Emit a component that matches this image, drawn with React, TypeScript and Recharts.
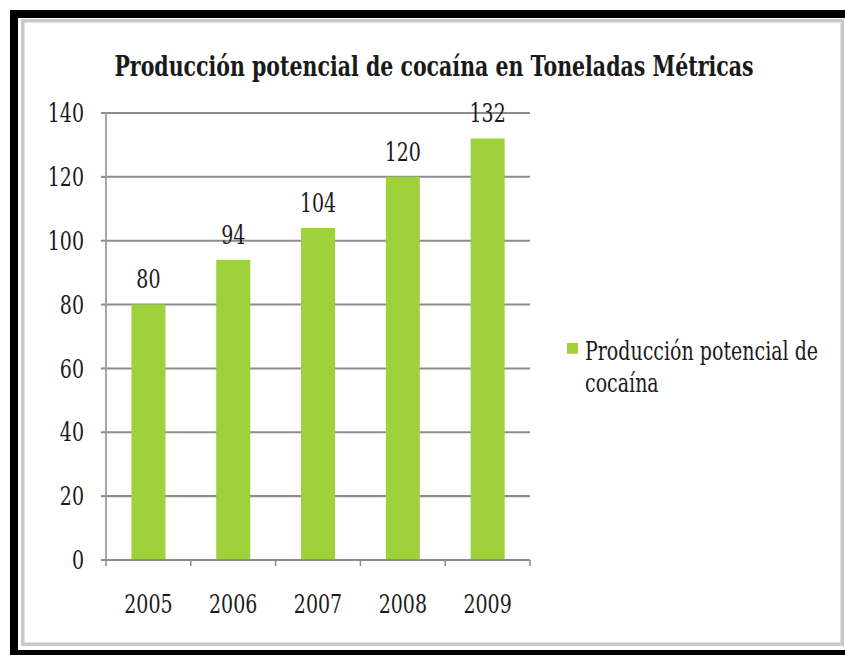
import { BarChart, Bar, XAxis, YAxis, CartesianGrid, LabelList } from 'recharts';

const TITLE = 'Producción potencial de cocaína en Toneladas Métricas';
const SERIES_NAME = 'Producción potencial de cocaína';
const YEARS = ['2005', '2006', '2007', '2008', '2009'];
const PRODUCTION = [80, 94, 104, 120, 132];
const Y_TICKS = [0, 20, 40, 60, 80, 100, 120, 140];

const FONT = '"DejaVu Serif", "Liberation Serif", serif';
const GREEN = '#9fd13a';
const GRID = '#8c8c8c';
const TEXT = '#1a1a1a';
// the source picture is stretched vertically, so the whole chart is drawn squashed and scaled back
const STRETCH = 1.35;
const W = 845;
const H = 486;

const data = YEARS.map((year, i) => ({ year, value: PRODUCTION[i] }));

function YearTick(props: any) {
  const { x, y, payload, index, visibleTicksCount } = props;
  const axisY = y - 8; // tickSize 6 + tickMargin 2
  const half = payload?.offset ?? 0;
  const last = index === visibleTicksCount - 1;
  return (
    <g>
      {half > 0 && <line x1={x - half} x2={x - half} y1={axisY} y2={axisY + 4.5} stroke={GRID} strokeWidth={1.5} />}
      {half > 0 && last && <line x1={x + half} x2={x + half} y1={axisY} y2={axisY + 4.5} stroke={GRID} strokeWidth={1.5} />}
      <text x={x} y={y + 31} textAnchor="middle" fontSize={19} fill={TEXT} fontFamily={FONT}>
        {payload.value}
      </text>
    </g>
  );
}

export default function App() {
  return (
    <div style={{ position: 'absolute', left: 0, top: 0, width: 845, height: 655, background: '#fff', overflow: 'hidden', fontFamily: FONT }}>
      <div style={{ position: 'absolute', left: 10, top: 10, width: 880, height: 648, boxSizing: 'border-box', border: '8px solid #000' }} />
      <div style={{ position: 'absolute', left: 21, top: 19, width: 823, height: 627, boxSizing: 'border-box', border: '3px solid #c9c9c9', boxShadow: 'inset 0 0 0 1px #e2e2e2' }} />
      <div style={{ position: 'absolute', left: 0, top: 0, width: W, height: H, transform: `scaleY(${STRETCH})`, transformOrigin: '0 0' }}>
        <div style={{ position: 'absolute', left: 23, top: 37, width: 822, textAlign: 'center', fontWeight: 'bold', fontSize: 20.5, lineHeight: '24px', color: TEXT }}>
          {TITLE}
        </div>
        <BarChart width={W} height={H} data={data} margin={{ top: 83.7, right: 315, bottom: 41.2, left: 46 }} barCategoryGap="30%">
          <CartesianGrid vertical={false} stroke={GRID} strokeWidth={1.5} />
          <XAxis
            dataKey="year"
            height={30}
            tickLine={false}
            tickSize={6}
            tickMargin={2}
            axisLine={{ stroke: GRID, strokeWidth: 1.5 }}
            tick={<YearTick />}
            interval={0}
          />
          <YAxis
            width={60}
            domain={[0, 140]}
            ticks={Y_TICKS}
            tickSize={5}
            tickMargin={17}
            axisLine={{ stroke: '#a6a6a6', strokeWidth: 2 }}
            tickLine={{ stroke: GRID, strokeWidth: 1.5 }}
            tick={{ fontSize: 19, fill: TEXT, fontFamily: FONT }}
          />
          <Bar dataKey="value" name={SERIES_NAME} fill={GREEN} isAnimationActive={false}>
            <LabelList dataKey="value" position="top" offset={12} fontSize={19} fill={TEXT} fontFamily={FONT} />
          </Bar>
        </BarChart>
        <div style={{ position: 'absolute', left: 567, top: 254, width: 11, height: 8.1, background: GREEN }} />
        <div style={{ position: 'absolute', left: 585, top: 248.5, width: 255, fontSize: 19, lineHeight: '23.5px', color: TEXT }}>
          {SERIES_NAME}
        </div>
      </div>
    </div>
  );
}
